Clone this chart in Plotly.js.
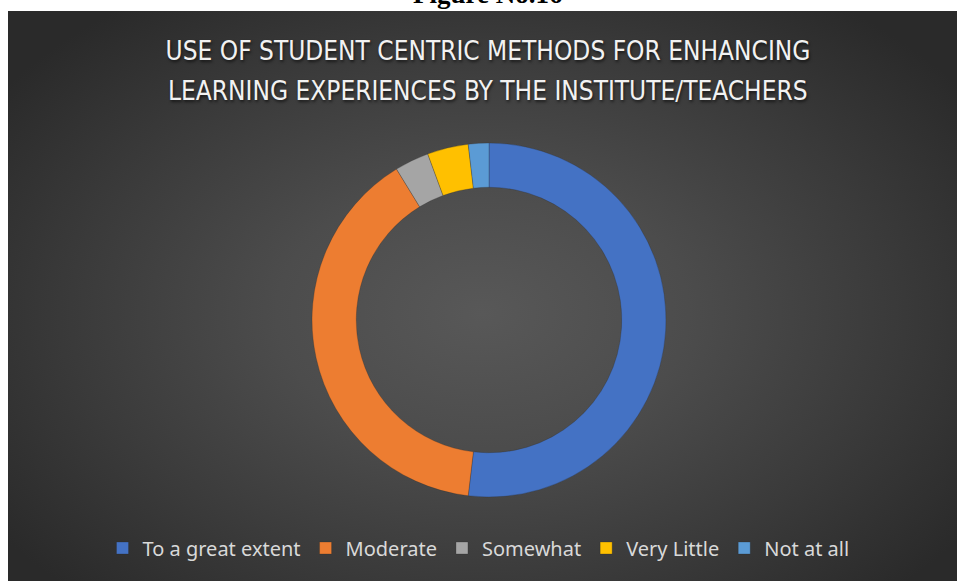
<!DOCTYPE html>
<html>
<head>
<meta charset="utf-8">
<script src="https://cdn.plot.ly/plotly-3.0.1.min.js"></script>
<style>
  html, body { margin: 0; padding: 0; background: #ffffff; overflow: hidden; }
  #wrap { position: relative; width: 957px; height: 581px; }
  #bg { position: absolute; left: 8px; top: 11px; right: 0; bottom: 0;
        background: radial-gradient(ellipse 62% 68% at 50% 53%, #585858 0%, #4c4c4c 35%, #3a3a3a 70%, #2a2a2a 100%); }
  #chart { position: absolute; left: 0; top: 0; width: 957px; height: 581px; }
</style>
</head>
<body>
<div id="wrap">
  <div id="bg"></div>
  <div id="chart"></div>
</div>
<script>
const categories = ["To a great extent", "Moderate", "Somewhat", "Very Little", "Not at all"];
const values = [83, 63, 5, 6, 3];
const colors = ["#4472C4", "#ED7D31", "#A5A5A5", "#FFC000", "#5B9BD5"];
const titleLines = ["USE OF STUDENT CENTRIC METHODS FOR ENHANCING", "LEARNING EXPERIENCES BY THE INSTITUTE/TEACHERS"];
const figureLabel = "Figure No.16";

const W = 957, H = 581;
const cx = 489, cy = 320, R = 177;
const titleFont = { family: "'Liberation Sans Narrow', 'DejaVu Sans Condensed', 'Arial Narrow', sans-serif", size: 26, color: "#f2f2f2", shadow: "1px 2px 3px rgba(0,0,0,0.6)" };

const trace = {
  type: "pie",
  labels: categories,
  values: values,
  hole: 0.75,
  sort: false,
  direction: "clockwise",
  rotation: 0,
  textinfo: "none",
  hoverinfo: "label+value+percent",
  marker: { colors: colors, line: { color: "rgba(40,40,40,0.45)", width: 0.6 } },
  domain: { x: [(cx - R) / W, (cx + R) / W], y: [1 - (cy + R) / H, 1 - (cy - R) / H] },
  automargin: false
};

const layout = {
  width: W, height: H,
  margin: { l: 0, r: 0, t: 0, b: 0 },
  paper_bgcolor: "rgba(0,0,0,0)",
  plot_bgcolor: "rgba(0,0,0,0)",
  title: {
    text: titleLines[0],
    xref: "container", yref: "container",
    x: 488 / W, xanchor: "center",
    y: 1 - 51 / H, yanchor: "middle",
    font: titleFont
  },
  showlegend: true,
  legend: {
    orientation: "h",
    x: 0.5, xanchor: "center",
    y: 1 - 548 / H, yanchor: "middle",
    font: { family: "'Noto Sans', 'Open Sans', sans-serif", size: 20, color: "#d9d9d9" },
    bgcolor: "rgba(0,0,0,0)",
    itemwidth: 30,
    traceorder: "normal"
  },
  annotations: [{
    text: titleLines[1],
    xref: "paper", yref: "paper",
    x: 488 / W, xanchor: "center",
    y: 1 - 91 / H, yanchor: "middle",
    showarrow: false,
    font: titleFont
  }, {
    text: "<b>" + figureLabel + "</b>",
    xref: "paper", yref: "paper",
    x: 488 / W, xanchor: "center",
    y: 1, yanchor: "bottom",
    yshift: -11,
    showarrow: false,
    font: { family: "'Liberation Serif', 'DejaVu Serif', serif", size: 27, color: "#000000" }
  }]
};

Plotly.newPlot("chart", [trace], layout, { displayModeBar: false, staticPlot: true });
</script>
</body>
</html>
